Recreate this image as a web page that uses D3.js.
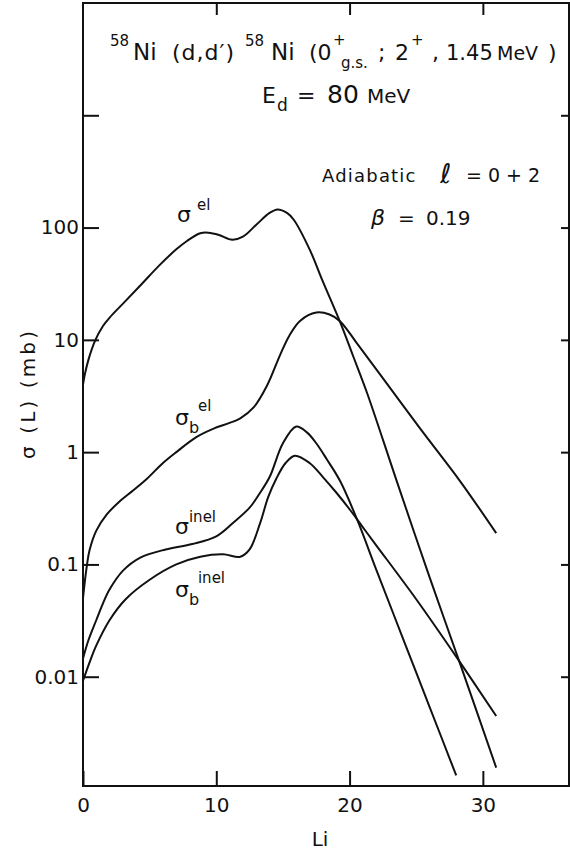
<!doctype html>
<html lang="en">
<head>
  <meta charset="utf-8">
  <title>58Ni (d,d') sigma(L)</title>
  <script src="https://d3js.org/d3.v7.min.js"></script>
  <style>
    body { margin: 0; background: #fff; }
    svg { display: block; }
    text { font-family: "DejaVu Sans", sans-serif; fill: #111; }
    .frame { fill: none; stroke: #111; stroke-width: 2; }
    .axis line { stroke: #111; stroke-width: 2; }
    .axis text { font-family: "DejaVu Sans", sans-serif; font-size: 20px; fill: #111; }
    .curve { fill: none; stroke: #111; stroke-width: 2; }
  </style>
</head>
<body>
  <svg id="chart" width="570" height="850"></svg>

  <script>
    // sigma^el
    const elL = [0, 0.15, 0.4, 0.9, 1.5, 2, 3, 4.3, 5.8, 7, 7.8, 8.8, 9.4, 10.2, 11.2, 12, 13, 14, 14.6, 15.3, 15.8, 17, 18, 19.3, 20.3, 21.3, 23.5, 26, 28.4, 31];
    const elV = [4.0, 5.0, 6.6, 9.8, 13.3, 15.8, 21, 30.5, 47, 64, 76, 89, 90, 86, 78, 83, 106, 135, 145, 135, 118, 64, 33, 14.3, 7.0, 3.4, 0.57, 0.077, 0.012, 0.00155];

    // sigma_b^el
    const elbL = [0, 0.25, 0.5, 1.0, 1.8, 2.7, 3.8, 4.8, 6, 7, 8.5, 9.8, 11, 11.8, 12.8, 13.8, 14.8, 15.5, 16.3, 17.5, 18.5, 19.3, 20.5, 22.3, 25.3, 28.3, 31];
    const elbV = [0.05, 0.09, 0.135, 0.2, 0.28, 0.36, 0.46, 0.58, 0.8, 1.0, 1.36, 1.62, 1.82, 2.0, 2.5, 3.9, 7.4, 11, 14.8, 17.5, 16.8, 14.6, 9.5, 4.9, 1.62, 0.55, 0.19];

    // sigma^inel
    const inelL = [0, 0.4, 1.0, 1.5, 2.0, 3.0, 4.3, 6.2, 8.2, 10, 11.25, 12.5, 13.2, 14, 15, 16, 16.8, 17.5, 18.3, 19.3, 20.6, 22, 24, 26, 28];
    const inelV = [0.0145, 0.021, 0.032, 0.045, 0.06, 0.088, 0.115, 0.136, 0.152, 0.178, 0.234, 0.32, 0.42, 0.6, 1.2, 1.69, 1.5, 1.2, 0.86, 0.55, 0.245, 0.09, 0.022, 0.0054, 0.00132];

    // sigma_b^inel
    const inelbL = [0, 0.5, 1.0, 2.0, 3.2, 5.0, 7.0, 8.8, 10.5, 11.8, 12.5, 13.3, 13.9, 14.5, 15.2, 15.9, 17, 18, 19, 20, 21, 22, 25, 28, 31];
    const inelbV = [0.0092, 0.0135, 0.019, 0.032, 0.049, 0.073, 0.1, 0.117, 0.123, 0.117, 0.136, 0.236, 0.4, 0.58, 0.8, 0.93, 0.8, 0.6, 0.437, 0.31, 0.214, 0.148, 0.049, 0.0151, 0.00447];

    const xTicks = [0, 10, 20, 30];
    const yTicks = [0.01, 0.1, 1, 10, 100, 1000];
    const yTickLabels = ['0.01', '0.1', '1', '10', '100', ''];

    // curve labels: anchor (L, value) of the sigma glyph baseline
    const curveLabels = [
      { sup: 'el', sub: '', L: 7.05, v: 111 },
      { sup: 'el', sub: 'b', L: 6.9, v: 1.76 },
      { sup: 'inel', sub: '', L: 6.9, v: 0.185 },
      { sup: 'inel', sub: 'b', L: 6.9, v: 0.051 }
    ];

    const svg = d3.select('#chart');

    const mLeft = 83, mRight = 569, mTop = 3, mBottom = 786;

    const x = d3.scaleLinear().domain([0, 36.5]).range([mLeft, 569.5]);
    const y = d3.scaleLog().domain([1e-3, 1e4]).range([789, mTop]);

    const line = d3.line()
      .x(d => x(d[0]))
      .y(d => y(d[1]))
      .curve(d3.curveCatmullRom.alpha(0.5));

    const series = [
      d3.zip(elL, elV),
      d3.zip(elbL, elbV),
      d3.zip(inelL, inelV),
      d3.zip(inelbL, inelbV)
    ];

    svg.append('g')
      .selectAll('path')
      .data(series)
      .join('path')
      .attr('class', 'curve')
      .attr('d', line);

    // frame
    svg.append('rect')
      .attr('class', 'frame')
      .attr('x', mLeft)
      .attr('y', mTop)
      .attr('width', mRight - mLeft)
      .attr('height', mBottom - mTop);

    // axes, ticks pointing inward
    const axL = svg.append('g')
      .attr('class', 'axis')
      .attr('transform', `translate(${mLeft},0)`)
      .call(d3.axisLeft(y).tickValues(yTicks).tickSize(-16).tickPadding(4)
        .tickFormat((d, i) => yTickLabels[i]));

    const axB = svg.append('g')
      .attr('class', 'axis')
      .attr('transform', `translate(0,${mBottom})`)
      .call(d3.axisBottom(x).tickValues(xTicks).tickSize(-15).tickPadding(12));

    const axT = svg.append('g')
      .attr('class', 'axis')
      .attr('transform', `translate(0,${mTop})`)
      .call(d3.axisTop(x).tickValues(xTicks.slice(1)).tickSize(-12).tickFormat(''));

    const axR = svg.append('g')
      .attr('class', 'axis')
      .attr('transform', `translate(${mRight},0)`)
      .call(d3.axisRight(y).tickValues(yTicks).tickSize(-8).tickFormat(''));

    [axL, axB, axT, axR].forEach(g => {
      g.select('.domain').remove();
      g.attr('font-family', null).attr('font-size', null);
    });

    // axis titles
    svg.append('text')
      .attr('x', 320)
      .attr('y', 846)
      .attr('text-anchor', 'middle')
      .attr('font-size', 20)
      .text('Li');

    svg.append('text')
      .attr('transform', 'translate(35,395) rotate(-90)')
      .attr('text-anchor', 'middle')
      .attr('font-size', 20)
      .attr('textLength', 128)
      .attr('lengthAdjust', 'spacing')
      .text('σ (L) (mb)');

    // rich text helper: each part placed at its own x / baseline
    function rich(parts) {
      const t = svg.append('text');
      parts.forEach(p => {
        t.append('tspan')
          .attr('x', p.x)
          .attr('y', p.y)
          .attr('font-size', p.s)
          .attr('font-style', p.it ? 'italic' : null)
          .attr('letter-spacing', p.ls || null)
          .text(p.t);
      });
      return t;
    }

    rich([
      { t: '58', x: 110, y: 46, s: 15 },
      { t: 'Ni', x: 133, y: 60, s: 23 },
      { t: '(d,d′)', x: 172, y: 60, s: 22, ls: 1 },
      { t: '58', x: 245, y: 46, s: 15 },
      { t: 'Ni', x: 271, y: 60, s: 23 },
      { t: '(0', x: 309, y: 60, s: 22 },
      { t: '+', x: 333, y: 45, s: 15 },
      { t: 'g.s.', x: 341, y: 68, s: 15 },
      { t: ';', x: 378, y: 60, s: 22 },
      { t: '2', x: 395, y: 60, s: 22 },
      { t: '+', x: 411, y: 45, s: 15 },
      { t: ',', x: 432, y: 60, s: 22 },
      { t: '1.45', x: 446, y: 60, s: 21 },
      { t: 'MeV', x: 497, y: 60, s: 19 },
      { t: ')', x: 548, y: 60, s: 22 }
    ]);

    rich([
      { t: 'E', x: 262, y: 103, s: 22 },
      { t: 'd', x: 277, y: 111, s: 17 },
      { t: '=', x: 297, y: 103, s: 22 },
      { t: '80', x: 327, y: 103, s: 25 },
      { t: 'MeV', x: 367, y: 103, s: 20 }
    ]);

    rich([
      { t: 'Adiabatic', x: 322, y: 182, s: 18, ls: 1.2 },
      { t: 'ℓ', x: 440, y: 183, s: 27, it: true },
      { t: '= 0 + 2', x: 466, y: 182, s: 19 }
    ]);

    rich([
      { t: 'β', x: 371, y: 225, s: 22, it: true },
      { t: '=', x: 398, y: 225, s: 20 },
      { t: '0.19', x: 426, y: 225, s: 20 }
    ]);

    // curve labels
    curveLabels.forEach(c => {
      const x0 = x(c.L), y0 = y(c.v);
      const parts = [{ t: 'σ', x: x0, y: y0, s: 22 }];
      if (c.sub) {
        parts.push({ t: c.sub, x: x0 + 14, y: y0 + 8, s: 16 });
        parts.push({ t: c.sup, x: x0 + 23, y: y0 - 14, s: 15 });
      } else {
        parts.push({ t: c.sup, x: x0 + (c.sup === 'el' ? 20 : 14), y: y0 - 12, s: 15 });
      }
      rich(parts);
    });
  </script>
</body>
</html>
